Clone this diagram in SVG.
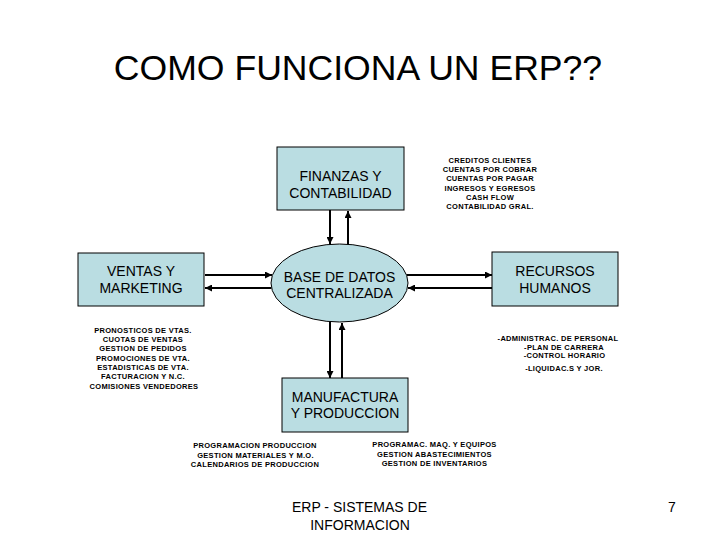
<svg xmlns="http://www.w3.org/2000/svg" width="720" height="540" viewBox="0 0 720 540">
<defs>
<style>
.box{fill:#BADDE2;stroke:#000;stroke-width:1}
.t{font-family:"Liberation Sans",Arial,sans-serif;font-size:14px;fill:#000;text-anchor:middle}
.n{font-family:"Liberation Sans",Arial,sans-serif;font-size:7.5px;font-weight:bold;letter-spacing:0.3px;fill:#000;text-anchor:middle}
.c{stroke:#000;stroke-width:2;fill:none}
</style>
<marker id="ah" markerWidth="7" markerHeight="7" refX="7" refY="3.5" orient="auto" markerUnits="userSpaceOnUse">
<path d="M0,0 L7,3.5 L0,7 Z" fill="#000"/>
</marker>
</defs>
<rect width="720" height="540" fill="#fff"/>
<text x="358" y="80" font-family="Liberation Sans, Arial, sans-serif" font-size="35.6" text-anchor="middle" fill="#000">COMO FUNCIONA UN ERP??</text>

<g id="connectors">
<line class="c" x1="330" y1="210" x2="330" y2="244" marker-end="url(#ah)"/>
<line class="c" x1="348" y1="244.5" x2="348" y2="211" marker-end="url(#ah)"/>
<line class="c" x1="205" y1="275" x2="272" y2="275" marker-end="url(#ah)"/>
<line class="c" x1="271.5" y1="288" x2="205" y2="288" marker-end="url(#ah)"/>
<line class="c" x1="406.5" y1="275" x2="492" y2="275" marker-end="url(#ah)"/>
<line class="c" x1="492" y1="288" x2="408" y2="288" marker-end="url(#ah)"/>
<line class="c" x1="330" y1="321.5" x2="330" y2="378" marker-end="url(#ah)"/>
<line class="c" x1="342" y1="378" x2="342" y2="323" marker-end="url(#ah)"/>
</g>

<g id="finanzas">
<rect class="box" x="277" y="147" width="127" height="63"/>
<text class="t" x="340.5" y="181">FINANZAS Y</text>
<text class="t" x="340.5" y="197.5">CONTABILIDAD</text>
</g>

<g id="base-datos">
<ellipse class="box" cx="339.5" cy="283" rx="68.5" ry="39"/>
<text class="t" x="339.5" y="281.7">BASE DE DATOS</text>
<text class="t" x="339.5" y="297.7">CENTRALIZADA</text>
</g>

<g id="ventas">
<rect class="box" x="78" y="253" width="126" height="53"/>
<text class="t" x="141" y="276">VENTAS Y</text>
<text class="t" x="141" y="293">MARKETING</text>
</g>

<g id="rrhh">
<rect class="box" x="492" y="252" width="126" height="54"/>
<text class="t" x="555" y="276">RECURSOS</text>
<text class="t" x="555" y="293.3">HUMANOS</text>
</g>

<g id="manufactura">
<rect class="box" x="282" y="378" width="126" height="54"/>
<text class="t" x="345" y="402.3">MANUFACTURA</text>
<text class="t" x="345" y="418.3">Y PRODUCCION</text>
</g>

<g id="notas-finanzas">
<text class="n" x="490" y="162.7">CREDITOS CLIENTES</text>
<text class="n" x="490" y="172">CUENTAS POR COBRAR</text>
<text class="n" x="490" y="181.3">CUENTAS POR PAGAR</text>
<text class="n" x="490" y="190.6">INGRESOS Y EGRESOS</text>
<text class="n" x="490" y="199.9">CASH FLOW</text>
<text class="n" x="490" y="209.3">CONTABILIDAD GRAL.</text>
</g>

<g id="notas-ventas">
<text class="n" x="143" y="332.7">PRONOSTICOS DE VTAS.</text>
<text class="n" x="143" y="342">CUOTAS DE VENTAS</text>
<text class="n" x="143" y="351.3">GESTION DE PEDIDOS</text>
<text class="n" x="143" y="360.7">PROMOCIONES DE VTA.</text>
<text class="n" x="143" y="370">ESTADISTICAS DE VTA.</text>
<text class="n" x="143" y="379.3">FACTURACION Y N.C.</text>
<text class="n" x="144" y="388.7">COMISIONES VENDEDORES</text>
</g>

<g id="notas-rrhh">
<text class="n" x="558" y="341">-ADMINISTRAC. DE PERSONAL</text>
<text class="n" x="564" y="349.5">-PLAN DE CARRERA</text>
<text class="n" x="564.5" y="358.3">-CONTROL HORARIO</text>
<text class="n" x="564" y="370.7">-LIQUIDAC.S Y JOR.</text>
</g>

<g id="notas-manufactura">
<text class="n" x="255" y="448">PROGRAMACION PRODUCCION</text>
<text class="n" x="255.5" y="457.7">GESTION MATERIALES Y M.O.</text>
<text class="n" x="255" y="467.3">CALENDARIOS DE PRODUCCION</text>
<text class="n" x="434.5" y="446.7">PROGRAMAC. MAQ. Y EQUIPOS</text>
<text class="n" x="434.5" y="456.7">GESTION ABASTECIMIENTOS</text>
<text class="n" x="434.5" y="466">GESTION DE INVENTARIOS</text>
</g>

<g id="footer">
<text class="t" x="359.5" y="512.3">ERP - SISTEMAS DE</text>
<text class="t" x="360" y="530">INFORMACION</text>
<text class="t" x="672" y="512.3">7</text>
</g>
</svg>
